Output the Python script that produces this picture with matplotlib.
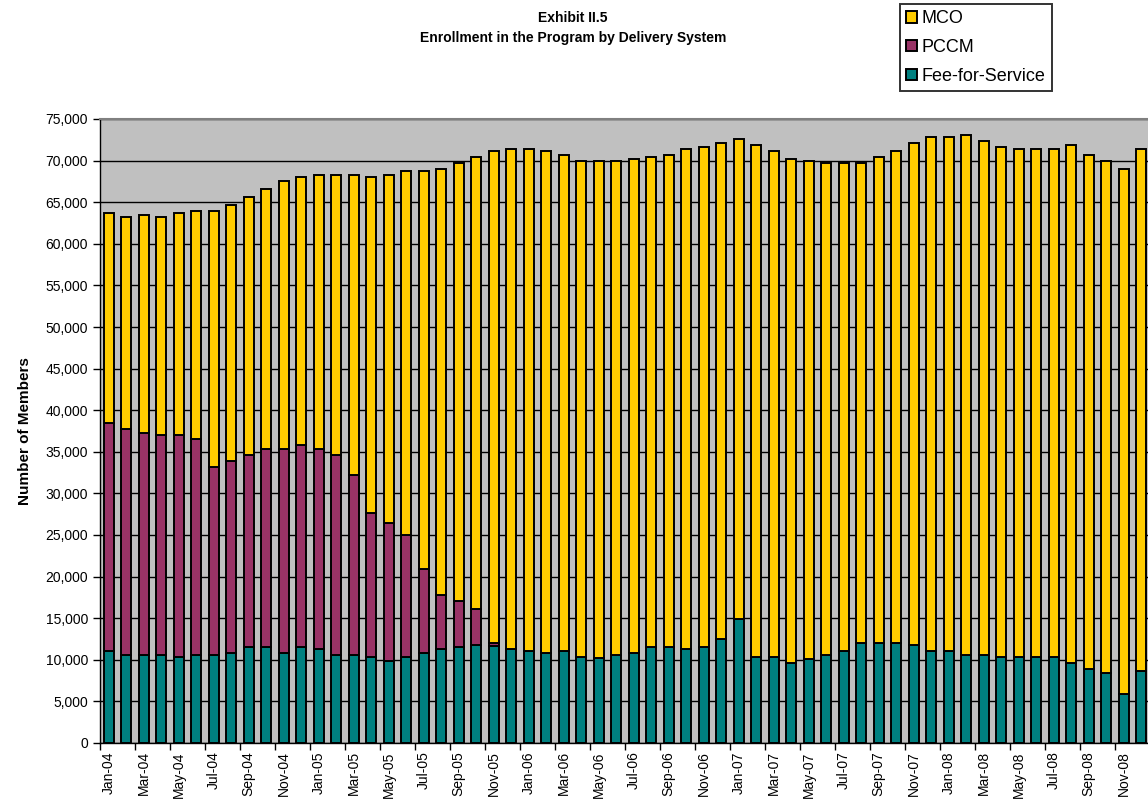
import numpy as np
import matplotlib
matplotlib.use("Agg")
import matplotlib.pyplot as plt
from matplotlib.ticker import FuncFormatter, MultipleLocator

plt.rcParams['font.family'] = ['Liberation Sans', 'DejaVu Sans']

# months Jan-04 .. Dec-08
month_names = ['Jan', 'Feb', 'Mar', 'Apr', 'May', 'Jun',
               'Jul', 'Aug', 'Sep', 'Oct', 'Nov', 'Dec']
years = ['04', '05', '06', '07', '08']
months = [f'{m}-{y}' for y in years for m in month_names]

ffs = [11060, 10580, 10580, 10580, 10380, 10580, 10580, 10860, 11580, 11580,
       10860, 11580, 11300, 10580, 10580, 10380, 9900, 10380, 10860, 11300,
       11580, 11780, 11700, 11300, 11060, 10860, 11060, 10380, 10180, 10580,
       10860, 11580, 11580, 11300, 11580, 12540, 14940, 10380, 10380, 9650,
       10130, 10580, 11090, 11980, 11980, 11980, 11780, 11090, 11090, 10580,
       10580, 10380, 10380, 10380, 10380, 9650, 8930, 8450, 5900, 8690]

pccm = [27440, 27200, 26720, 26470, 26670, 25990, 22630, 23070, 23030, 23760,
        24480, 24240, 24040, 24030, 21630, 17300, 16580, 14620, 10050, 6490,
        5520, 4320, 300, 0, 0, 0, 0, 0, 0, 0,
        0, 0, 0, 0, 0, 0, 0, 0, 0, 0,
        0, 0, 0, 0, 0, 0, 0, 0, 0, 0,
        0, 0, 0, 0, 0, 0, 0, 0, 0, 0]

mco = [25170, 25440, 26160, 26170, 26620, 27370, 30730, 30690, 31010, 31250,
       32210, 32210, 32930, 33660, 36060, 40350, 41790, 43750, 47840, 51200,
       52610, 54330, 59150, 60090, 60330, 60290, 59610, 59520, 59720, 59320,
       59330, 58850, 59090, 60090, 60050, 59570, 57650, 61490, 60770, 60540,
       59770, 59130, 58620, 57730, 58450, 59170, 60330, 61740, 61740, 62490,
       61770, 61250, 61010, 61010, 61010, 62220, 61740, 61450, 63090, 62700]

c_ffs = '#008080'
c_pccm = '#993366'
c_mco = '#FFCC00'

fig = plt.figure(figsize=(11.48, 8.08), dpi=100)
ax = fig.add_axes([100 / 1148, 1 - 743 / 808, 1050 / 1148, (743 - 119) / 808])

x = np.arange(len(months))
w = 0.55
lw = 1.4
ffs_a = np.array(ffs)
pccm_a = np.array(pccm)
ax.bar(x, ffs_a, width=w, color=c_ffs, edgecolor='black', linewidth=lw,
       label='Fee-for-Service', zorder=3)
ax.bar(x, pccm_a, width=w, bottom=ffs_a, color=c_pccm, edgecolor='black',
       linewidth=lw, label='PCCM', zorder=3)
ax.bar(x, mco, width=w, bottom=ffs_a + pccm_a, color=c_mco, edgecolor='black',
       linewidth=lw, label='MCO', zorder=3)

ax.set_facecolor('#C0C0C0')
ax.set_xlim(-0.5, len(months) - 0.5)
ax.set_ylim(0, 75000)
ax.yaxis.set_major_locator(MultipleLocator(5000))
ax.yaxis.set_major_formatter(FuncFormatter(lambda v, p: f'{int(v):,}'))
ax.grid(axis='y', color='black', linewidth=1.0, zorder=1)
ax.set_axisbelow(True)

ax.set_xticks(x[::2])
ax.set_xticklabels(months[::2], rotation=90, fontsize=10)
ax.set_xticks(np.arange(-0.5, len(months), 2), minor=True)
ax.tick_params(axis='x', which='major', length=0, pad=6)
ax.tick_params(axis='x', which='minor', length=5, width=1, color='black', direction='out')
ax.tick_params(axis='y', length=5, width=1, labelsize=10, direction='out')

for s in ['left', 'bottom']:
    ax.spines[s].set_color('black')
    ax.spines[s].set_linewidth(1.0)
ax.spines['top'].set_color('#808080')
ax.spines['top'].set_linewidth(1.5)
ax.spines['right'].set_visible(False)

ax.set_ylabel('Number of Members', fontsize=11, fontweight='bold', labelpad=10)

fig.text(573 / 1148, 1 - 18 / 808, 'Exhibit II.5', ha='center', va='center',
         fontsize=10, fontweight='bold')
fig.text(573 / 1148, 1 - 38 / 808, 'Enrollment in the Program by Delivery System',
         ha='center', va='center', fontsize=10, fontweight='bold')

handles, labels = ax.get_legend_handles_labels()
leg = fig.legend(handles[::-1], labels[::-1], loc='upper left',
                 bbox_to_anchor=(900 / 1148, 1 - 4 / 808), fontsize=13,
                 frameon=True, fancybox=False, handlelength=0.6, handleheight=0.6,
                 handletextpad=0.25, borderpad=0.35, labelspacing=0.65,
                 borderaxespad=0)
leg.get_frame().set_edgecolor('black')
leg.get_frame().set_linewidth(1.4)

fig.savefig('out.png', dpi=100)
